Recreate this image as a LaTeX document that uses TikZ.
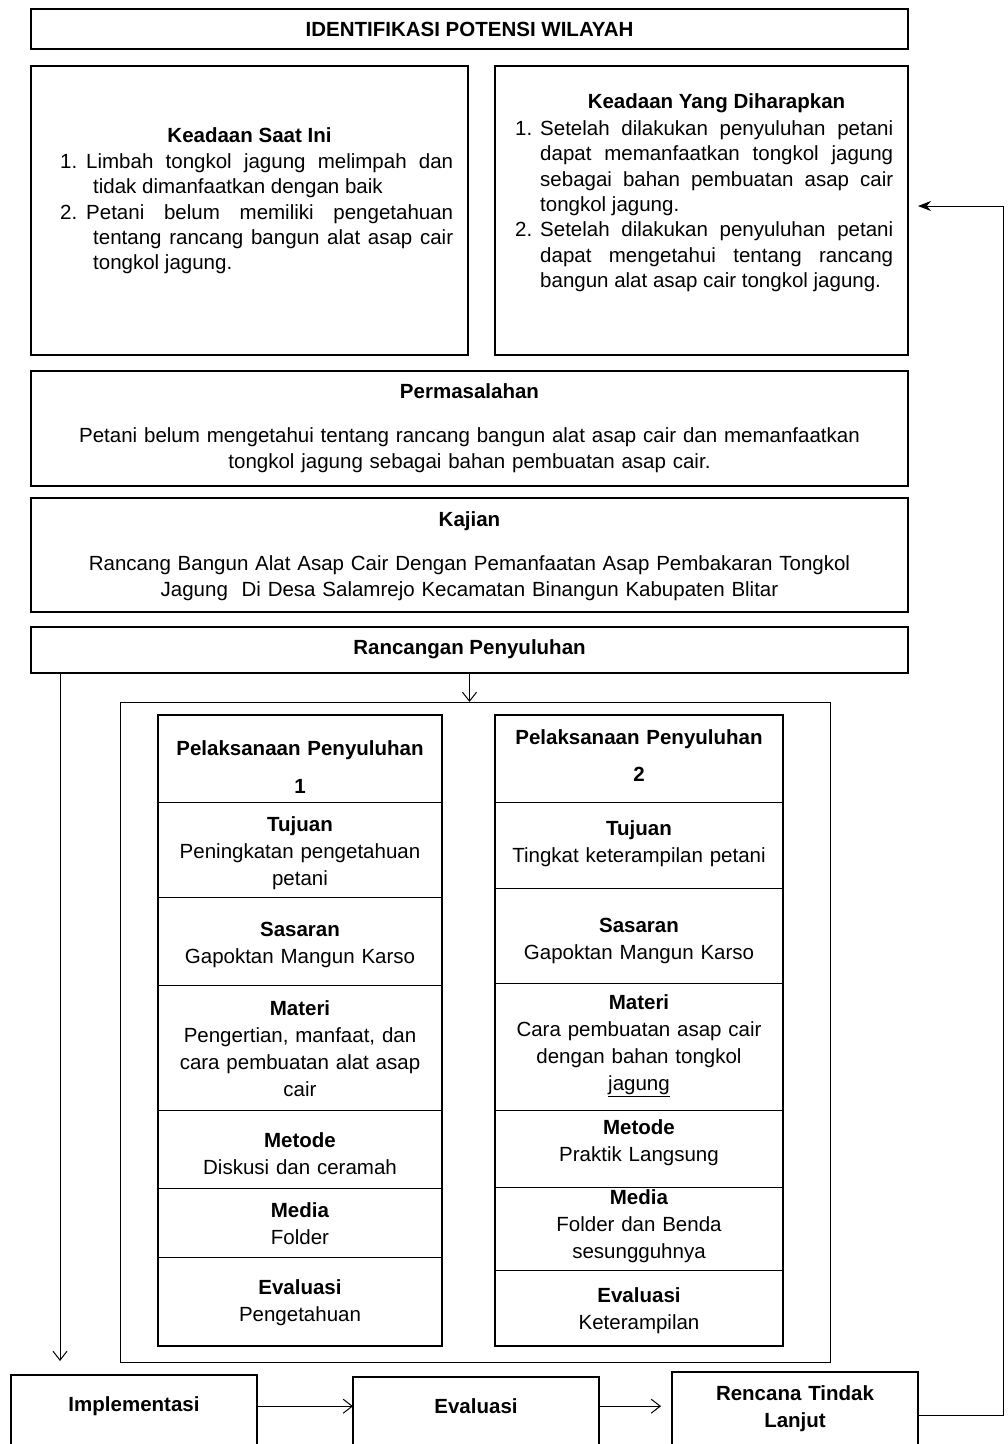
\documentclass[tikz,border=0pt]{standalone}
\usepackage{fontspec}
\setmainfont{Liberation Sans}
\usetikzlibrary{arrows.meta}
\newcommand\fsA{\fontsize{20.5}{25.3}\selectfont}
\newcommand\fsB{\fontsize{20.5}{27}\selectfont}
\newcommand\fsC{\fontsize{20.5}{26}\selectfont}
\tikzset{
 box/.style={draw, line width=1.8pt, anchor=north west, inner sep=0pt, outer sep=0pt},
 thinbox/.style={draw, line width=1pt, anchor=north west, inner sep=0pt, outer sep=0pt},
 head/.style={font=\fsA\bfseries, anchor=base, inner sep=0pt},
 para/.style={font=\fsC, anchor=base, inner sep=0pt, text width=#1, align=center},
 lst/.style={font=\fsA, anchor=base west, inner sep=0pt, text width=#1, align=justify},
 cell/.style={font=\fsB, anchor=base, inner sep=0pt, text width=270pt, align=center},
 divider/.style={line width=1pt},
 oarrow/.style={line width=1pt, -{Straight Barb[length=9pt,width=14pt]}},
 farrow/.style={line width=1pt, -{Stealth[length=13pt,width=10pt]}},
}
\begin{document}
\begin{tikzpicture}[x=1pt,y=-1pt]
\useasboundingbox (0,0) rectangle (1008,1444);
\fill[white] (0,0) rectangle (1008,1444);

% title
\node[box, minimum width=877pt, minimum height=40pt, font=\fsA\bfseries] (title) at (31,9) {IDENTIFIKASI POTENSI WILAYAH};

% top boxes
\node[box, minimum width=437pt, minimum height=289pt] (lbox) at (31,66) {};
\node[box, minimum width=413pt, minimum height=289pt] (rbox) at (495,66) {};
\node[head] (lhead) at (249.5,142.5) {Keadaan Saat Ini};
\node[lst=393pt] (llist) at (60,168.5) {\tolerance=10000\hbadness=10000
\parshape 2 26pt 367pt 33pt 360pt \hspace*{-26pt}\makebox[26pt][l]{1.}Limbah tongkol jagung melimpah dan\linebreak tidak dimanfaatkan dengan baik\par
\parshape 2 26pt 367pt 33pt 360pt \hspace*{-26pt}\makebox[26pt][l]{2.}Petani belum memiliki pengetahuan\linebreak tentang rancang bangun alat asap cair\linebreak tongkol jagung.\par};
\node[head] (rhead) at (716.5,108.5) {Keadaan Yang Diharapkan};
\node[lst=378pt] (rlist) at (515,135.5) {\tolerance=10000\hbadness=10000
\parshape 2 25pt 353pt 25pt 353pt \hspace*{-25pt}\makebox[25pt][l]{1.}Setelah dilakukan penyuluhan petani\linebreak dapat memanfaatkan tongkol jagung\linebreak sebagai bahan pembuatan asap cair\linebreak tongkol jagung.\par
\parshape 2 25pt 353pt 25pt 353pt \hspace*{-25pt}\makebox[25pt][l]{2.}Setelah dilakukan penyuluhan petani\linebreak dapat mengetahui tentang rancang\linebreak bangun alat asap cair tongkol jagung.\par};

% Permasalahan
\node[box, minimum width=877pt, minimum height=115pt] (perm) at (31,371) {};
\node[head] (permh) at (469.5,398.5) {Permasalahan};
\node[para=860pt] (permt) at (469.5,442.5) {Petani belum mengetahui tentang rancang bangun alat asap cair dan memanfaatkan\\tongkol jagung sebagai bahan pembuatan asap cair.};

% Kajian
\node[box, minimum width=877pt, minimum height=114pt] (kaj) at (31,498) {};
\node[head] (kajh) at (469.5,526.5) {Kajian};
\node[para=860pt] (kajt) at (469.5,570.5) {Rancang Bangun Alat Asap Cair Dengan Pemanfaatan Asap Pembakaran Tongkol\\Jagung\ \ Di Desa Salamrejo Kecamatan Binangun Kabupaten Blitar};

% Rancangan
\node[box, minimum width=877pt, minimum height=46pt] (ranc) at (31,627) {};
\node[head] (ranct) at (469.5,654.5) {Rancangan Penyuluhan};

% frame
\node[thinbox, minimum width=710pt, minimum height=660pt] (frame) at (120,702) {};

% column 1
\node[box, minimum width=284pt, minimum height=631pt] (c1) at (158,715) {};
\foreach \yy in {802,897,985,1110,1188,1257}{
  \draw[divider] (c1.west |- 0,\yy) -- (c1.east |- 0,\yy);
}
\node[cell, font=\fontsize{20.5}{38}\selectfont\bfseries] (c1h) at (300,755.5) {Pelaksanaan Penyuluhan\\1};
\node[cell] (c1a) at (300,831.5) {\textbf{Tujuan}\\Peningkatan pengetahuan\\petani};
\node[cell] (c1b) at (300,936.5) {\textbf{Sasaran}\\Gapoktan Mangun Karso};
\node[cell] (c1c) at (300,1015.5) {\textbf{Materi}\\Pengertian, manfaat, dan\\cara pembuatan alat asap\\cair};
\node[cell] (c1d) at (300,1147.5) {\textbf{Metode}\\Diskusi dan ceramah};
\node[cell] (c1e) at (300,1217.5) {\textbf{Media}\\Folder};
\node[cell] (c1f) at (300,1294.5) {\textbf{Evaluasi}\\Pengetahuan};

% column 2
\node[box, minimum width=288pt, minimum height=631pt] (c2) at (495,715) {};
\foreach \yy in {802,888,983,1110,1187,1270}{
  \draw[divider] (c2.west |- 0,\yy) -- (c2.east |- 0,\yy);
}
\node[cell, font=\fontsize{20.5}{37}\selectfont\bfseries] (c2h) at (639,744.5) {Pelaksanaan Penyuluhan\\2};
\node[cell] (c2a) at (639,835.5) {\textbf{Tujuan}\\Tingkat keterampilan petani};
\node[cell] (c2b) at (639,932.5) {\textbf{Sasaran}\\Gapoktan Mangun Karso};
\node[cell] (c2c) at (639,1009.5) {\textbf{Materi}\\Cara pembuatan asap cair\\dengan bahan tongkol\\\underline{jagung}};
\node[cell] (c2d) at (639,1134.5) {\textbf{Metode}\\Praktik Langsung};
\node[cell] (c2e) at (639,1204.5) {\textbf{Media}\\Folder dan Benda\\sesungguhnya};
\node[cell] (c2f) at (639,1302.5) {\textbf{Evaluasi}\\Keterampilan};

% bottom boxes
\node[box, minimum width=246pt, minimum height=90pt] (impl) at (11,1375) {};
\node[box, minimum width=246pt, minimum height=90pt] (eval) at (353,1377) {};
\node[box, minimum width=246pt, minimum height=90pt] (rtl) at (672,1372) {};
\node[head] (implt) at (134,1411.5) {Implementasi};
\node[head] (evalt) at (476,1413.5) {Evaluasi};
\node[cell, font=\fontsize{20.5}{27}\selectfont\bfseries] (rtlt) at (795,1400.5) {Rencana Tindak\\Lanjut};

% connectors
\draw[oarrow] (ranc.south) -- (ranc.south |- frame.north);
\coordinate (lf) at (60,1361);
\draw[oarrow] (ranc.south -| lf) -- (lf);
\draw[oarrow] (impl.east |- implt) -- (eval.west |- implt);
\draw[oarrow, shorten >=11pt] (eval.east |- evalt) -- (rtl.west |- evalt);
\coordinate (rc) at (1003,1415);
\coordinate (rt) at (1003,206);
\draw[farrow, shorten >=10pt] (rtl.east |- rc) -- (rc) -- (rt) -- (rbox.east |- rt);
\end{tikzpicture}
\end{document}
